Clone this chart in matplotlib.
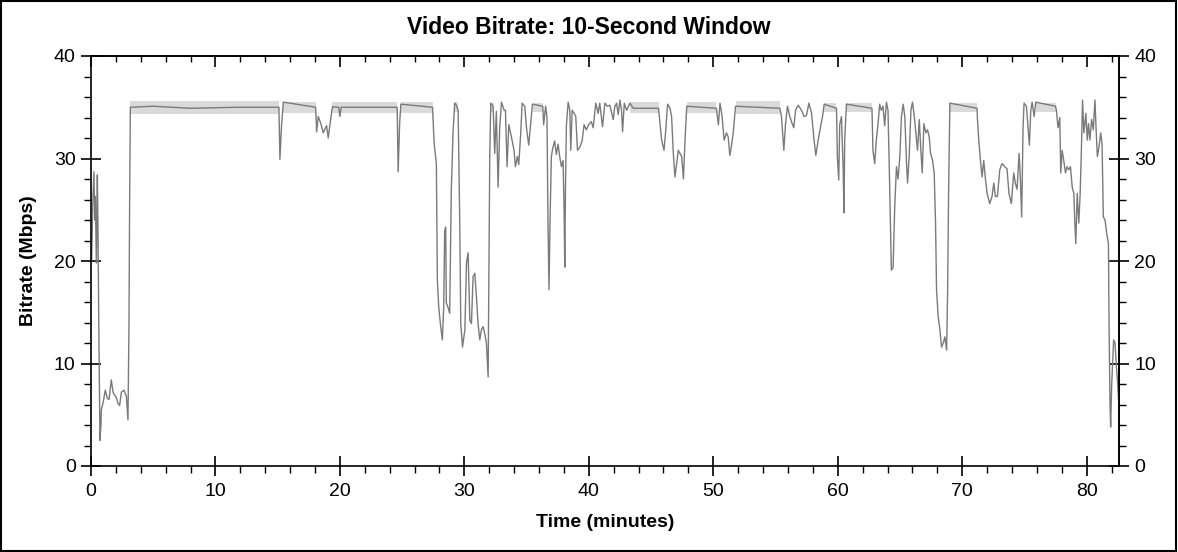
import numpy as np
import matplotlib
matplotlib.use('Agg')
import matplotlib.pyplot as plt
from matplotlib.patches import Rectangle
from matplotlib.ticker import MultipleLocator

plt.rcParams['font.family'] = ['Liberation Sans', 'DejaVu Sans']

# ---- data: time (minutes) and bitrate (Mbps) ----
time_min = [
    0.05, 0.15, 0.24, 0.30, 0.35, 0.43, 0.51, 0.56, 0.62, 0.72, 0.80, 0.83, 0.96, 1.15, 1.31,
    1.45, 1.63, 1.77, 1.90, 2.03, 2.17, 2.30, 2.44, 2.65, 2.84, 2.97, 3.05, 3.10, 3.16,
    5.0, 8.0, 11.8, 15.10, 15.18, 15.30, 15.45, 18.05, 18.13, 18.26, 18.47, 18.66, 18.93,
    19.06, 19.20, 19.40, 19.90, 20.00, 20.10, 24.60, 24.68, 24.80, 24.90, 27.44, 27.57,
    27.75, 27.83, 27.94, 28.07, 28.23, 28.34, 28.42, 28.50, 28.55, 28.68, 28.82, 28.95,
    29.09, 29.22, 29.36, 29.50, 29.63, 29.71, 29.85, 30.04, 30.17, 30.30, 30.44, 30.57,
    30.70, 30.84, 30.97, 31.10, 31.24, 31.37, 31.50, 31.64, 31.77, 31.91, 31.96, 32.04,
    32.12, 32.31, 32.44, 32.57, 32.71, 32.84, 32.98, 33.20, 33.30, 33.43, 33.57, 33.78,
    33.99, 34.10, 34.26, 34.37, 34.53, 34.64, 34.85, 34.99, 35.17, 35.33, 35.47, 36.30,
    36.37, 36.53, 36.64, 36.72, 36.80, 36.88, 36.99, 37.12, 37.26, 37.39, 37.53, 37.66,
    37.80, 37.93, 38.01, 38.07, 38.12, 38.20, 38.34, 38.47, 38.55, 38.66, 38.82, 38.95,
    39.09, 39.27, 39.46, 39.62, 39.80, 39.99, 40.20, 40.35, 40.56, 40.75, 40.88, 41.10,
    41.29, 41.47, 41.69, 41.96, 42.09, 42.23, 42.36, 42.50, 42.63, 42.71, 42.85, 43.04,
    43.30, 43.57, 45.60, 45.85, 46.04, 46.17, 46.33, 46.52, 46.65, 46.79, 46.92, 47.06,
    47.19, 47.33, 47.46, 47.60, 47.73, 47.87, 50.25, 50.41, 50.54, 50.71, 50.87, 51.06,
    51.20, 51.33, 51.47, 51.60, 51.79, 55.35, 55.48, 55.67, 55.80, 55.96, 56.15, 56.34,
    56.47, 56.61, 56.82, 57.09, 57.30, 57.49, 57.68, 57.90, 58.08, 58.24, 58.43, 58.65,
    58.78, 58.91, 59.90, 59.97, 60.08, 60.16, 60.30, 60.44, 60.50, 60.56, 60.70, 62.75,
    62.83, 62.97, 63.10, 63.24, 63.37, 63.50, 63.64, 63.77, 63.91, 64.04, 64.18, 64.31,
    64.45, 64.58, 64.72, 64.85, 64.99, 65.12, 65.26, 65.39, 65.53, 65.61, 65.74, 65.88,
    66.01, 66.15, 66.28, 66.41, 66.55, 66.68, 66.79, 66.92, 67.08, 67.22, 67.35, 67.46,
    67.62, 67.75, 67.86, 67.94, 68.07, 68.21, 68.34, 68.48, 68.61, 68.75, 68.83, 68.91,
    69.01, 71.20, 71.22, 71.33, 71.49, 71.60, 71.73, 71.87, 72.00, 72.21, 72.40, 72.54,
    72.67, 72.83, 73.02, 73.20, 73.42, 73.60, 73.76, 73.95, 74.14, 74.27, 74.41, 74.57,
    74.67, 74.78, 74.89, 74.97, 75.16, 75.29, 75.40, 75.51, 75.62, 75.78, 75.91, 77.50,
    77.57, 77.70, 77.84, 77.92, 78.03, 78.16, 78.30, 78.43, 78.57, 78.70, 78.84, 78.97,
    79.05, 79.13, 79.24, 79.37, 79.48, 79.59, 79.67, 79.78, 79.94, 80.05, 80.15, 80.26,
    80.40, 80.53, 80.67, 80.75, 80.86, 80.99, 81.13, 81.24, 81.34, 81.48, 81.61, 81.75,
    81.80, 81.88, 81.93, 82.01, 82.09, 82.17, 82.28, 82.39, 82.50, 82.58,
]
bitrate = [
    20.0, 26.0, 28.7, 24.0, 26.3, 19.8, 28.4, 23.3, 14.6, 2.5, 4.0, 5.5, 6.1, 7.4, 6.6,
    6.5, 8.4, 7.2, 6.9, 6.7, 6.1, 5.9, 7.2, 7.4, 6.8, 4.5, 13.5, 25.0, 35.0,
    35.1, 34.9, 35.0, 35.0, 29.9, 33.0, 35.5, 35.0, 32.6, 34.1, 33.4, 32.5, 33.2,
    32.0, 33.3, 35.05, 35.0, 34.1, 35.0, 35.0, 28.7, 33.5, 35.3, 35.0, 31.5,
    29.5, 18.1, 15.5, 13.9, 12.3, 15.5, 23.0, 23.3, 15.9, 15.5, 14.9, 26.9,
    32.5, 35.4, 35.2, 34.7, 23.7, 13.9, 11.6, 13.3, 19.8, 20.8, 14.2, 13.9,
    18.5, 18.8, 16.5, 13.9, 12.3, 13.3, 13.6, 12.9, 12.0, 8.7, 17.2, 30.2,
    35.4, 35.1, 30.5, 34.6, 27.2, 33.0, 35.5, 34.7, 34.7, 29.2, 33.3, 32.1,
    30.8, 29.2, 30.2, 29.4, 32.5, 35.4, 35.1, 33.0, 31.3, 33.4, 35.3, 35.1,
    33.3, 35.1, 34.0, 23.7, 17.2, 23.7, 30.2, 31.1, 31.7, 30.4, 31.4, 30.2,
    29.2, 29.8, 25.3, 19.4, 26.8, 33.3, 35.5, 34.7, 30.8, 34.7, 34.4, 34.1,
    30.8, 31.1, 31.7, 33.3, 32.8, 33.3, 33.6, 33.0, 35.4, 34.4, 35.4, 33.1,
    35.4, 35.1, 35.2, 33.8, 35.1, 35.4, 34.3, 35.7, 34.7, 32.6, 35.4, 34.7,
    35.4, 34.9, 34.9, 31.8, 30.8, 32.6, 35.3, 34.9, 34.1, 30.5, 28.2, 29.5,
    30.8, 30.5, 30.2, 28.0, 31.8, 35.1, 34.9, 33.3, 35.4, 34.1, 31.8, 32.5,
    32.1, 30.3, 31.3, 32.5, 35.1, 34.9, 34.1, 30.8, 33.3, 35.1, 34.1, 33.4,
    33.0, 34.7, 35.2, 34.7, 34.1, 34.2, 35.4, 34.4, 32.0, 30.3, 31.8, 33.3,
    34.1, 35.3, 34.9, 30.2, 27.9, 33.3, 34.1, 28.9, 24.7, 31.8, 35.3, 34.9,
    30.8, 29.5, 31.8, 33.4, 35.3, 34.7, 35.1, 33.2, 35.5, 34.7, 26.9, 19.1,
    19.4, 25.3, 29.2, 28.0, 30.2, 34.1, 35.3, 34.1, 29.5, 27.6, 30.2, 34.7,
    35.5, 34.1, 32.5, 30.8, 33.8, 30.8, 28.6, 33.4, 32.5, 32.8, 32.1, 30.5,
    29.8, 28.6, 23.7, 17.2, 14.6, 13.3, 11.6, 12.0, 12.6, 11.3, 17.2, 26.9,
    35.4, 34.9, 34.0, 31.8, 29.5, 28.2, 29.8, 28.0, 26.6, 25.6, 26.3, 27.6,
    26.3, 26.3, 28.9, 29.5, 29.2, 29.0, 26.6, 25.6, 28.6, 27.6, 27.0, 30.5,
    28.2, 24.3, 33.0, 35.4, 35.1, 33.0, 31.3, 34.7, 35.5, 34.1, 35.5, 35.1,
    34.7, 33.0, 34.0, 28.6, 30.8, 29.8, 28.6, 29.2, 28.9, 29.2, 27.2, 26.6,
    23.7, 21.7, 26.6, 23.7, 26.6, 31.4, 35.7, 32.5, 34.4, 31.8, 33.4, 31.8,
    33.8, 32.8, 35.7, 33.1, 30.2, 31.1, 32.5, 31.4, 24.3, 24.0, 22.7, 21.7,
    13.9, 5.8, 3.8, 7.9, 10.0, 12.3, 12.0, 9.7, 7.9, 6.1,
]

# light-gray min/max band, visible where the rate sits at its cap
band_start = [3.16, 15.45, 19.40, 24.90, 29.20, 32.10, 35.50, 43.30, 47.87, 51.79, 58.91, 60.70, 69.01, 75.90]
band_end   = [15.10, 18.05, 24.60, 27.44, 29.50, 32.35, 36.30, 45.60, 50.25, 55.35, 59.90, 62.75, 71.20, 77.50]
band_lo    = [34.3, 34.4, 34.4, 34.4, 34.5, 34.5, 34.5, 34.4, 34.4, 34.3, 34.5, 34.5, 34.5, 34.5]
band_hi    = [35.6, 35.5, 35.5, 35.5, 35.5, 35.4, 35.4, 35.5, 35.5, 35.6, 35.4, 35.4, 35.4, 35.4]

x_max = 82.6

fig = plt.figure(figsize=(11.78, 5.52), dpi=100)
ax = fig.add_axes([91/1178, 1 - 466/552, (1119 - 91)/1178, (466 - 56)/552])

for s, e, lo, hi in zip(band_start, band_end, band_lo, band_hi):
    ax.fill_between([s, e], [lo, lo], [hi, hi], color='#dadada', lw=0, zorder=1)

ax.plot(time_min, bitrate, color='#7a7a7a', lw=1.0, zorder=2)

ax.set_xlim(0, x_max)
ax.set_ylim(0, 40)
ax.set_xticks([0, 10, 20, 30, 40, 50, 60, 70, 80])
ax.set_yticks([0, 10, 20, 30, 40])
ax.xaxis.set_minor_locator(MultipleLocator(2))
ax.yaxis.set_minor_locator(MultipleLocator(2))
ax.tick_params(which='major', direction='inout', length=14, width=1.2, labelsize=14, pad=4)
ax.tick_params(which='minor', direction='out', length=5, width=1.0)
ax.tick_params(axis='x', pad=5)

# top and right ticks as in the original
secx = ax.secondary_xaxis('top')
secx.set_xticks([0, 10, 20, 30, 40, 50, 60, 70, 80])
secx.xaxis.set_minor_locator(MultipleLocator(2))
secx.tick_params(which='major', direction='in', length=8, width=1.2, labeltop=False)
secx.tick_params(which='minor', direction='in', length=4, width=1.0)

secy = ax.secondary_yaxis('right')
secy.set_yticks([0, 10, 20, 30, 40])
secy.yaxis.set_minor_locator(MultipleLocator(2))
secy.tick_params(which='major', direction='inout', length=14, width=1.2, labelsize=14, pad=4)
secy.tick_params(which='minor', direction='out', length=5, width=1.0)

for sp in list(ax.spines.values()) + list(secx.spines.values()) + list(secy.spines.values()):
    sp.set_linewidth(1.2)

fig.text(0.5, 1 - 28/552, 'Video Bitrate: 10-Second Window', fontsize=16.5,
         fontweight='bold', ha='center', va='center')
ax.set_xlabel('Time (minutes)', fontsize=14, fontweight='bold', labelpad=10)
ax.set_ylabel('Bitrate (Mbps)', fontsize=14, fontweight='bold', labelpad=12)

# frame round the whole picture
fig.patches.append(Rectangle((0.001, 0.002), 0.997, 0.996, transform=fig.transFigure,
                             fill=False, edgecolor='black', lw=1.5))

fig.savefig('out.png', dpi=100)
